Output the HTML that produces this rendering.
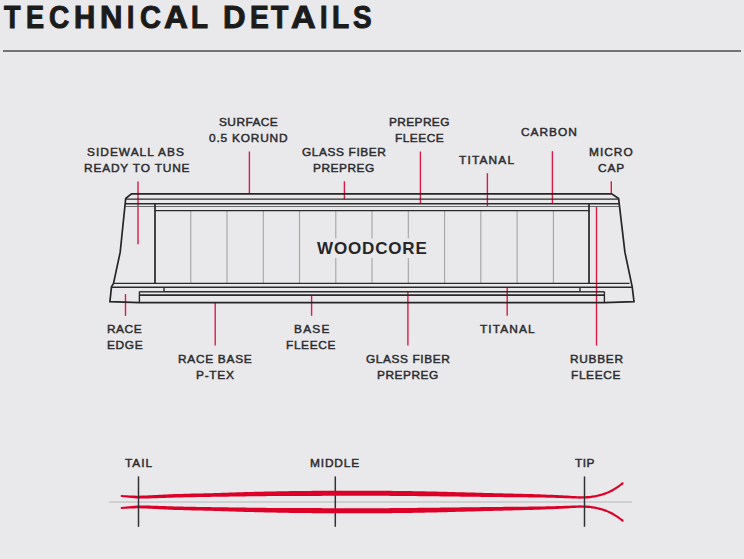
<!DOCTYPE html>
<html><head><meta charset="utf-8">
<style>
html,body{margin:0;padding:0;}
body{width:744px;height:559px;background:#e9e9eb;position:relative;overflow:hidden;font-family:"Liberation Sans",sans-serif;}
.title{position:absolute;left:0;top:0;width:744px;height:40px;font-weight:bold;font-size:30.5px;line-height:36px;color:#1b1b1b;white-space:nowrap;}
.title span{position:absolute;top:-1px;transform-origin:0 0;-webkit-text-stroke:1px #1b1b1b;}
.rule{position:absolute;left:3px;top:50px;width:738px;height:2px;background:#727272;}
svg{position:absolute;left:0;top:0;}
.wc{position:absolute;left:317px;top:239px;font-weight:bold;font-size:17px;line-height:20px;color:#262628;letter-spacing:0.85px;white-space:nowrap;}
.t{position:absolute;font-weight:normal;-webkit-text-stroke:0.45px #2c2c2f;font-size:11px;line-height:16px;color:#2c2c2f;white-space:nowrap;transform:scaleX(1.08);transform-origin:0 0;}
</style></head>
<body>
<div class="title"><span style="left:4.09px;transform:scaleX(0.886)">T</span><span style="left:25.71px;transform:scaleX(0.889)">E</span><span style="left:49.20px;transform:scaleX(0.918)">C</span><span style="left:74.03px;transform:scaleX(0.965)">H</span><span style="left:99.78px;transform:scaleX(1.020)">N</span><span style="left:126.94px;transform:scaleX(0.857)">I</span><span style="left:139.50px;transform:scaleX(0.950)">C</span><span style="left:163.80px;transform:scaleX(1.082)">A</span><span style="left:191.09px;transform:scaleX(0.911)">L</span><span style="left:223.48px;transform:scaleX(1.024)">D</span><span style="left:250.18px;transform:scaleX(0.921)">E</span><span style="left:270.93px;transform:scaleX(0.929)">T</span><span style="left:290.50px;transform:scaleX(1.120)">A</span><span style="left:319.51px;transform:scaleX(0.886)">I</span><span style="left:332.28px;transform:scaleX(0.922)">L</span><span style="left:352.50px;transform:scaleX(0.915)">S</span></div>
<div class="rule"></div>
<svg width="744" height="559" viewBox="0 0 744 559">
  <g stroke="#dc1a45" stroke-width="1.4" fill="none">
    <line x1="138" y1="181.4" x2="138" y2="244.3"/>
    <line x1="249.4" y1="151.5" x2="249.4" y2="194"/>
    <line x1="344.4" y1="181.2" x2="344.4" y2="199.2"/>
    <line x1="420.4" y1="151.5" x2="420.4" y2="204"/>
    <line x1="487.4" y1="173.2" x2="487.4" y2="206.5"/>
    <line x1="552.4" y1="151.1" x2="552.4" y2="204"/>
    <line x1="611.3" y1="181.2" x2="611.3" y2="194"/>
    <line x1="596.5" y1="206.5" x2="596.5" y2="345.6"/>
    <line x1="125.5" y1="294.1" x2="125.5" y2="315.9"/>
    <line x1="215.2" y1="302" x2="215.2" y2="345.6"/>
    <line x1="311.6" y1="294.8" x2="311.6" y2="315.8"/>
    <line x1="407.9" y1="291.6" x2="407.9" y2="345.6"/>
    <line x1="507.2" y1="287.2" x2="507.2" y2="315.8"/>
  </g>
  <g stroke="#a3a3a6" stroke-width="1.1" fill="none">
    <line x1="190.75" y1="210.8" x2="190.75" y2="283.4"/>
    <line x1="227.0" y1="210.8" x2="227.0" y2="283.4"/>
    <line x1="263.3" y1="210.8" x2="263.3" y2="283.4"/>
    <line x1="299.5" y1="210.8" x2="299.5" y2="283.4"/>
    <line x1="335.8" y1="210.8" x2="335.8" y2="283.4"/>
    <line x1="372.0" y1="210.8" x2="372.0" y2="283.4"/>
    <line x1="408.3" y1="210.8" x2="408.3" y2="283.4"/>
    <line x1="444.6" y1="210.8" x2="444.6" y2="283.4"/>
    <line x1="480.8" y1="210.8" x2="480.8" y2="283.4"/>
    <line x1="517.1" y1="210.8" x2="517.1" y2="283.4"/>
    <line x1="553.4" y1="210.8" x2="553.4" y2="283.4"/>
  </g>
  <rect x="313" y="238.4" width="118" height="19.6" fill="#e9e9eb"/>
  <g stroke="#6a6a6c" stroke-width="1.1" fill="none">
    <line x1="124.8" y1="206.5" x2="619.5" y2="206.5"/>
  </g>
  <g fill="none" stroke="#262626" stroke-width="1.7" stroke-linejoin="miter" stroke-miterlimit="10">
    <path d="M131.4 193.9 L611.7 193.9 L618.6 198.6 L624.9 252.2 L632.2 286.8 L634 301.6 L604.4 302.7 L139.4 302.7 L109.9 301.6 L111.5 286.8 L113.5 283.4 L120.2 252.2 L125.7 198.5 Z"/>
  </g>
  <g stroke="#2a2a2a" stroke-width="1.4" fill="none">
    <line x1="125.6" y1="199.1" x2="618.7" y2="199.1"/>
    <line x1="125.1" y1="203.8" x2="619.2" y2="203.8"/>
    <line x1="155" y1="210.6" x2="589" y2="210.6"/>
    <line x1="113.5" y1="283.4" x2="629.6" y2="283.4"/>
    <line x1="111.5" y1="287.2" x2="632.2" y2="287.2"/>
    <line x1="164" y1="291.8" x2="580" y2="291.8"/>
    <line x1="139.4" y1="291.8" x2="164" y2="291.8"/>
    <line x1="580" y1="291.8" x2="604.4" y2="291.8"/>
    <line x1="139.4" y1="295.1" x2="604.4" y2="295.1" stroke-width="1.6"/>
    <line x1="164" y1="287.2" x2="164" y2="291.6"/>
    <line x1="580" y1="287.2" x2="580" y2="291.6"/>
    <line x1="139.4" y1="291.6" x2="139.4" y2="302.5"/>
    <line x1="604.4" y1="291.6" x2="604.4" y2="302.5"/>
  </g>
  <g stroke="#262626" stroke-width="1.7" fill="none">
    <line x1="155" y1="203.8" x2="155" y2="283.4"/>
    <line x1="589" y1="203.8" x2="589" y2="283.4"/>
  </g>
  <!-- ski profile -->
  <line x1="109.2" y1="502.1" x2="632" y2="502.1" stroke="#c6c6ca" stroke-width="1.5"/>
  <line x1="335.3" y1="476.4" x2="335.3" y2="526.8" stroke="#2f3234" stroke-width="1.5"/>
  <g fill="#dc0028">
<path d="M121.52 497.05 L124.03 497.32 L126.55 497.58 L129.07 497.83 L131.60 498.04 L134.13 498.23 L136.66 498.38 L139.21 498.47 L141.75 498.52 L144.28 498.53 L146.82 498.50 L149.35 498.45 L151.88 498.37 L154.41 498.28 L156.93 498.18 L159.44 498.07 L161.96 497.97 L164.47 497.88 L166.98 497.79 L169.50 497.71 L172.01 497.63 L174.52 497.56 L177.04 497.50 L179.55 497.44 L182.07 497.38 L184.58 497.32 L187.10 497.27 L189.61 497.23 L192.13 497.18 L194.65 497.14 L197.16 497.10 L199.68 497.06 L202.20 497.02 L204.72 496.98 L207.23 496.94 L209.75 496.90 L212.27 496.87 L214.79 496.83 L217.31 496.79 L219.83 496.75 L222.35 496.72 L224.87 496.68 L227.38 496.64 L229.90 496.61 L232.42 496.57 L234.94 496.54 L237.46 496.50 L239.97 496.47 L242.49 496.43 L245.01 496.40 L247.53 496.36 L250.04 496.33 L252.56 496.30 L255.08 496.26 L257.59 496.23 L260.11 496.20 L262.62 496.17 L265.14 496.14 L267.66 496.11 L270.17 496.09 L272.69 496.06 L275.20 496.04 L277.72 496.03 L280.24 496.01 L282.75 495.99 L285.27 495.98 L287.78 495.97 L290.30 495.95 L292.82 495.94 L295.33 495.93 L297.85 495.93 L300.37 495.92 L302.88 495.91 L305.40 495.91 L307.92 495.90 L310.43 495.90 L312.95 495.89 L315.47 495.89 L317.98 495.88 L320.50 495.88 L323.02 495.87 L325.53 495.87 L328.05 495.87 L330.57 495.86 L333.08 495.85 L335.60 495.85 L338.12 495.84 L340.64 495.84 L343.15 495.83 L345.67 495.83 L348.19 495.82 L350.70 495.82 L353.22 495.81 L355.74 495.81 L358.25 495.81 L360.77 495.81 L363.29 495.81 L365.80 495.81 L368.32 495.81 L370.84 495.81 L373.35 495.82 L375.87 495.82 L378.38 495.83 L380.90 495.84 L383.42 495.85 L385.93 495.86 L388.45 495.87 L390.96 495.89 L393.48 495.90 L396.00 495.92 L398.51 495.94 L401.03 495.96 L403.54 495.98 L406.06 496.00 L408.57 496.03 L411.09 496.05 L413.61 496.08 L416.12 496.10 L418.64 496.13 L421.16 496.16 L423.67 496.19 L426.19 496.22 L428.71 496.24 L431.22 496.27 L433.74 496.30 L436.26 496.33 L438.77 496.36 L441.29 496.40 L443.81 496.43 L446.32 496.46 L448.84 496.49 L451.36 496.52 L453.88 496.55 L456.39 496.59 L458.91 496.62 L461.43 496.65 L463.95 496.68 L466.47 496.71 L468.98 496.74 L471.50 496.77 L474.02 496.81 L476.54 496.84 L479.06 496.87 L481.58 496.90 L484.09 496.93 L486.61 496.95 L489.13 496.98 L491.65 497.01 L494.17 497.04 L496.69 497.07 L499.21 497.09 L501.72 497.12 L504.24 497.14 L506.76 497.16 L509.28 497.19 L511.80 497.21 L514.31 497.23 L516.83 497.26 L519.35 497.28 L521.87 497.30 L524.38 497.33 L526.90 497.36 L529.42 497.38 L531.93 497.42 L534.45 497.45 L536.96 497.49 L539.48 497.52 L542.00 497.57 L544.51 497.61 L547.03 497.66 L549.54 497.72 L552.06 497.78 L554.57 497.84 L557.09 497.91 L559.60 497.98 L562.12 498.06 L564.64 498.15 L567.15 498.24 L569.67 498.34 L572.19 498.44 L574.71 498.53 L577.24 498.60 L579.78 498.63 L582.33 498.62 L584.88 498.54 L587.44 498.38 L589.99 498.14 L592.55 497.81 L595.11 497.38 L597.66 496.86 L600.22 496.23 L602.78 495.49 L605.34 494.63 L607.91 493.62 L610.47 492.46 L613.04 491.13 L615.61 489.61 L618.16 487.91 L620.70 486.08 L623.23 484.19 L621.97 482.51 L619.46 484.38 L616.97 486.18 L614.49 487.83 L612.02 489.29 L609.55 490.55 L607.08 491.65 L604.61 492.60 L602.14 493.41 L599.66 494.10 L597.18 494.69 L594.71 495.19 L592.23 495.59 L589.75 495.90 L587.27 496.11 L584.79 496.24 L582.31 496.29 L579.82 496.26 L577.32 496.17 L574.82 496.04 L572.31 495.89 L569.80 495.74 L567.28 495.59 L564.76 495.45 L562.24 495.32 L559.72 495.19 L557.20 495.07 L554.68 494.95 L552.16 494.84 L549.64 494.74 L547.12 494.64 L544.60 494.54 L542.08 494.45 L539.56 494.36 L537.04 494.28 L534.52 494.20 L532.00 494.12 L529.48 494.05 L526.96 493.98 L524.45 493.91 L521.93 493.84 L519.41 493.77 L516.89 493.71 L514.37 493.65 L511.86 493.59 L509.34 493.53 L506.82 493.46 L504.30 493.40 L501.79 493.34 L499.27 493.28 L496.75 493.22 L494.24 493.16 L491.72 493.09 L489.20 493.02 L486.69 492.96 L484.17 492.89 L481.65 492.82 L479.14 492.75 L476.62 492.69 L474.10 492.62 L471.59 492.55 L469.07 492.48 L466.55 492.41 L464.04 492.34 L461.52 492.27 L459.00 492.20 L456.48 492.13 L453.97 492.06 L451.45 492.00 L448.93 491.93 L446.41 491.86 L443.90 491.80 L441.38 491.74 L438.86 491.67 L436.34 491.61 L433.82 491.55 L431.30 491.50 L428.79 491.44 L426.27 491.38 L423.75 491.33 L421.23 491.28 L418.71 491.23 L416.19 491.19 L413.67 491.14 L411.15 491.10 L408.64 491.06 L406.12 491.03 L403.60 490.99 L401.08 490.96 L398.56 490.93 L396.04 490.91 L393.52 490.88 L391.00 490.86 L388.48 490.84 L385.96 490.82 L383.44 490.81 L380.92 490.79 L378.40 490.78 L375.88 490.77 L373.37 490.76 L370.85 490.75 L368.33 490.74 L365.81 490.74 L363.29 490.73 L360.77 490.73 L358.25 490.72 L355.73 490.72 L353.22 490.72 L350.70 490.72 L348.18 490.73 L345.66 490.73 L343.14 490.73 L340.62 490.74 L338.11 490.74 L335.59 490.75 L333.07 490.76 L330.55 490.76 L328.03 490.77 L325.52 490.79 L323.00 490.80 L320.48 490.81 L317.96 490.83 L315.44 490.85 L312.92 490.87 L310.41 490.89 L307.89 490.91 L305.37 490.94 L302.85 490.96 L300.33 490.99 L297.81 491.02 L295.29 491.05 L292.77 491.09 L290.26 491.12 L287.74 491.16 L285.22 491.20 L282.70 491.24 L280.18 491.28 L277.66 491.33 L275.14 491.38 L272.62 491.42 L270.10 491.48 L267.58 491.53 L265.06 491.58 L262.55 491.64 L260.03 491.70 L257.51 491.76 L254.99 491.83 L252.47 491.90 L249.95 491.97 L247.43 492.04 L244.91 492.12 L242.40 492.20 L239.88 492.28 L237.36 492.36 L234.84 492.44 L232.33 492.52 L229.81 492.61 L227.29 492.69 L224.78 492.77 L222.26 492.85 L219.74 492.92 L217.23 493.00 L214.71 493.07 L212.19 493.14 L209.68 493.21 L207.16 493.27 L204.64 493.33 L202.13 493.39 L199.61 493.45 L197.09 493.51 L194.57 493.57 L192.06 493.62 L189.54 493.69 L187.02 493.75 L184.50 493.82 L181.98 493.88 L179.46 493.96 L176.94 494.04 L174.42 494.12 L171.89 494.21 L169.37 494.31 L166.85 494.42 L164.33 494.53 L161.81 494.65 L159.29 494.79 L156.77 494.93 L154.25 495.07 L151.74 495.21 L149.23 495.35 L146.73 495.46 L144.23 495.56 L141.74 495.62 L139.24 495.65 L136.75 495.64 L134.25 495.59 L131.74 495.52 L129.23 495.42 L126.72 495.31 L124.20 495.18 L121.68 495.05 Z"/>
<circle cx="121.60" cy="496.05" r="1.00"/>
<circle cx="622.60" cy="483.35" r="1.05"/>
<path d="M121.68 508.95 L124.20 508.82 L126.72 508.69 L129.23 508.58 L131.74 508.48 L134.25 508.41 L136.75 508.36 L139.24 508.35 L141.74 508.38 L144.23 508.44 L146.73 508.54 L149.23 508.65 L151.74 508.79 L154.25 508.93 L156.77 509.07 L159.29 509.21 L161.81 509.35 L164.33 509.47 L166.85 509.58 L169.37 509.69 L171.89 509.79 L174.42 509.88 L176.94 509.96 L179.46 510.04 L181.98 510.12 L184.50 510.18 L187.02 510.25 L189.54 510.31 L192.06 510.38 L194.57 510.43 L197.09 510.49 L199.61 510.55 L202.13 510.61 L204.64 510.67 L207.16 510.73 L209.68 510.79 L212.19 510.86 L214.71 510.93 L217.23 511.00 L219.74 511.08 L222.26 511.15 L224.78 511.23 L227.29 511.31 L229.81 511.39 L232.33 511.48 L234.84 511.56 L237.36 511.64 L239.88 511.72 L242.40 511.80 L244.91 511.88 L247.43 511.96 L249.95 512.03 L252.47 512.10 L254.99 512.17 L257.51 512.24 L260.03 512.30 L262.55 512.36 L265.06 512.42 L267.58 512.47 L270.10 512.52 L272.62 512.58 L275.14 512.62 L277.66 512.67 L280.18 512.72 L282.70 512.76 L285.22 512.80 L287.74 512.84 L290.26 512.88 L292.77 512.91 L295.29 512.95 L297.81 512.98 L300.33 513.01 L302.85 513.04 L305.37 513.06 L307.89 513.09 L310.41 513.11 L312.92 513.13 L315.44 513.15 L317.96 513.17 L320.48 513.19 L323.00 513.20 L325.52 513.21 L328.03 513.23 L330.55 513.24 L333.07 513.24 L335.59 513.25 L338.11 513.26 L340.62 513.26 L343.14 513.27 L345.66 513.27 L348.18 513.27 L350.70 513.28 L353.22 513.28 L355.73 513.28 L358.25 513.28 L360.77 513.27 L363.29 513.27 L365.81 513.26 L368.33 513.26 L370.85 513.25 L373.37 513.24 L375.88 513.23 L378.40 513.22 L380.92 513.21 L383.44 513.19 L385.96 513.18 L388.48 513.16 L391.00 513.14 L393.52 513.12 L396.04 513.09 L398.56 513.07 L401.08 513.04 L403.60 513.01 L406.12 512.97 L408.64 512.94 L411.15 512.90 L413.67 512.86 L416.19 512.81 L418.71 512.77 L421.23 512.72 L423.75 512.67 L426.27 512.62 L428.79 512.56 L431.30 512.50 L433.82 512.45 L436.34 512.39 L438.86 512.33 L441.38 512.26 L443.90 512.20 L446.41 512.14 L448.93 512.07 L451.45 512.00 L453.97 511.94 L456.48 511.87 L459.00 511.80 L461.52 511.73 L464.04 511.66 L466.55 511.59 L469.07 511.52 L471.59 511.45 L474.10 511.38 L476.62 511.31 L479.14 511.25 L481.65 511.18 L484.17 511.11 L486.69 511.04 L489.20 510.98 L491.72 510.91 L494.24 510.84 L496.75 510.78 L499.27 510.72 L501.79 510.66 L504.30 510.60 L506.82 510.54 L509.34 510.47 L511.86 510.41 L514.37 510.35 L516.89 510.29 L519.41 510.23 L521.93 510.16 L524.45 510.09 L526.96 510.02 L529.48 509.95 L532.00 509.88 L534.52 509.80 L537.04 509.72 L539.56 509.64 L542.08 509.55 L544.60 509.46 L547.12 509.36 L549.64 509.26 L552.16 509.16 L554.68 509.05 L557.20 508.93 L559.72 508.81 L562.24 508.68 L564.76 508.55 L567.28 508.41 L569.80 508.26 L572.31 508.11 L574.82 507.96 L577.32 507.83 L579.82 507.74 L582.31 507.71 L584.79 507.76 L587.27 507.89 L589.75 508.10 L592.23 508.41 L594.71 508.81 L597.18 509.31 L599.66 509.90 L602.14 510.59 L604.61 511.40 L607.08 512.35 L609.55 513.45 L612.02 514.71 L614.49 516.17 L616.97 517.82 L619.46 519.62 L621.97 521.49 L623.23 519.81 L620.70 517.92 L618.16 516.09 L615.61 514.39 L613.04 512.87 L610.47 511.54 L607.91 510.38 L605.34 509.37 L602.78 508.51 L600.22 507.77 L597.66 507.14 L595.11 506.62 L592.55 506.19 L589.99 505.86 L587.44 505.62 L584.88 505.46 L582.33 505.38 L579.78 505.37 L577.24 505.40 L574.71 505.47 L572.19 505.56 L569.67 505.66 L567.15 505.76 L564.64 505.85 L562.12 505.94 L559.60 506.02 L557.09 506.09 L554.57 506.16 L552.06 506.22 L549.54 506.28 L547.03 506.34 L544.51 506.39 L542.00 506.43 L539.48 506.48 L536.96 506.51 L534.45 506.55 L531.93 506.58 L529.42 506.62 L526.90 506.64 L524.38 506.67 L521.87 506.70 L519.35 506.72 L516.83 506.74 L514.31 506.77 L511.80 506.79 L509.28 506.81 L506.76 506.84 L504.24 506.86 L501.72 506.88 L499.21 506.91 L496.69 506.93 L494.17 506.96 L491.65 506.99 L489.13 507.02 L486.61 507.05 L484.09 507.07 L481.58 507.10 L479.06 507.13 L476.54 507.16 L474.02 507.19 L471.50 507.23 L468.98 507.26 L466.47 507.29 L463.95 507.32 L461.43 507.35 L458.91 507.38 L456.39 507.41 L453.88 507.45 L451.36 507.48 L448.84 507.51 L446.32 507.54 L443.81 507.57 L441.29 507.60 L438.77 507.64 L436.26 507.67 L433.74 507.70 L431.22 507.73 L428.71 507.76 L426.19 507.78 L423.67 507.81 L421.16 507.84 L418.64 507.87 L416.12 507.90 L413.61 507.92 L411.09 507.95 L408.57 507.97 L406.06 508.00 L403.54 508.02 L401.03 508.04 L398.51 508.06 L396.00 508.08 L393.48 508.10 L390.96 508.11 L388.45 508.13 L385.93 508.14 L383.42 508.15 L380.90 508.16 L378.38 508.17 L375.87 508.18 L373.35 508.18 L370.84 508.19 L368.32 508.19 L365.80 508.19 L363.29 508.19 L360.77 508.19 L358.25 508.19 L355.74 508.19 L353.22 508.19 L350.70 508.18 L348.19 508.18 L345.67 508.17 L343.15 508.17 L340.64 508.16 L338.12 508.16 L335.60 508.15 L333.08 508.15 L330.57 508.14 L328.05 508.13 L325.53 508.13 L323.02 508.13 L320.50 508.12 L317.98 508.12 L315.47 508.11 L312.95 508.11 L310.43 508.10 L307.92 508.10 L305.40 508.09 L302.88 508.09 L300.37 508.08 L297.85 508.07 L295.33 508.07 L292.82 508.06 L290.30 508.05 L287.78 508.03 L285.27 508.02 L282.75 508.01 L280.24 507.99 L277.72 507.97 L275.20 507.96 L272.69 507.94 L270.17 507.91 L267.66 507.89 L265.14 507.86 L262.62 507.83 L260.11 507.80 L257.59 507.77 L255.08 507.74 L252.56 507.70 L250.04 507.67 L247.53 507.64 L245.01 507.60 L242.49 507.57 L239.97 507.53 L237.46 507.50 L234.94 507.46 L232.42 507.43 L229.90 507.39 L227.38 507.36 L224.87 507.32 L222.35 507.28 L219.83 507.25 L217.31 507.21 L214.79 507.17 L212.27 507.13 L209.75 507.10 L207.23 507.06 L204.72 507.02 L202.20 506.98 L199.68 506.94 L197.16 506.90 L194.65 506.86 L192.13 506.82 L189.61 506.77 L187.10 506.73 L184.58 506.68 L182.07 506.62 L179.55 506.56 L177.04 506.50 L174.52 506.44 L172.01 506.37 L169.50 506.29 L166.98 506.21 L164.47 506.12 L161.96 506.03 L159.44 505.93 L156.93 505.82 L154.41 505.72 L151.88 505.63 L149.35 505.55 L146.82 505.50 L144.28 505.47 L141.75 505.48 L139.21 505.53 L136.66 505.62 L134.13 505.77 L131.60 505.96 L129.07 506.17 L126.55 506.42 L124.03 506.68 L121.52 506.95 Z"/>
<circle cx="121.60" cy="507.95" r="1.00"/>
<circle cx="622.60" cy="520.65" r="1.05"/>
  </g>
  <g stroke="#2f3234" stroke-width="1.5">
    <line x1="138.5" y1="476.4" x2="138.5" y2="526.8"/>
    <line x1="584.5" y1="476.4" x2="584.5" y2="526.8"/>
  </g>
</svg>

<div class="wc">WOODCORE</div>
<div class="t" style="left:86.9px;top:144px;letter-spacing:0.95px">SIDEWALL ABS</div>
<div class="t" style="left:84.4px;top:160px;letter-spacing:0.77px">READY TO TUNE</div>
<div class="t" style="left:219.3px;top:114px;letter-spacing:0.41px">SURFACE</div>
<div class="t" style="left:209.3px;top:130px;letter-spacing:0.74px">0.5 KORUND</div>
<div class="t" style="left:302.2px;top:144px;letter-spacing:0.56px">GLASS FIBER</div>
<div class="t" style="left:313.2px;top:160px;letter-spacing:0.48px">PREPREG</div>
<div class="t" style="left:389.3px;top:114px;letter-spacing:0.36px">PREPREG</div>
<div class="t" style="left:394.6px;top:130px;letter-spacing:0.45px">FLEECE</div>
<div class="t" style="left:459.4px;top:152px;letter-spacing:1.09px">TITANAL</div>
<div class="t" style="left:521.2px;top:124px;letter-spacing:0.91px">CARBON</div>
<div class="t" style="left:588.7px;top:144px;letter-spacing:0.95px">MICRO</div>
<div class="t" style="left:597.8px;top:160px;letter-spacing:0.85px">CAP</div>
<div class="t" style="left:107.2px;top:321px;letter-spacing:0.49px">RACE</div>
<div class="t" style="left:107.2px;top:337px;letter-spacing:0.62px">EDGE</div>
<div class="t" style="left:177.8px;top:351px;letter-spacing:0.66px">RACE BASE</div>
<div class="t" style="left:195.6px;top:367px;letter-spacing:0.68px">P-TEX</div>
<div class="t" style="left:293.7px;top:321px;letter-spacing:1.13px">BASE</div>
<div class="t" style="left:286.3px;top:337px;letter-spacing:0.58px">FLEECE</div>
<div class="t" style="left:366.3px;top:351px;letter-spacing:0.55px">GLASS FIBER</div>
<div class="t" style="left:377.4px;top:367px;letter-spacing:0.48px">PREPREG</div>
<div class="t" style="left:480.4px;top:321px;letter-spacing:1.03px">TITANAL</div>
<div class="t" style="left:569.5px;top:351px;letter-spacing:0.65px">RUBBER</div>
<div class="t" style="left:571.3px;top:367px;letter-spacing:0.58px">FLEECE</div>
<div class="t" style="left:125.3px;top:455px;letter-spacing:0.91px">TAIL</div>
<div class="t" style="left:309.7px;top:455px;letter-spacing:0.80px">MIDDLE</div>
<div class="t" style="left:575.1px;top:455px;letter-spacing:0.39px">TIP</div>
</body></html>
